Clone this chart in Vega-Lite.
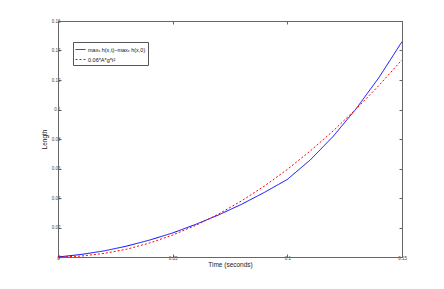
{
  "$schema": "https://vega.github.io/schema/vega-lite/v6.json",
  "autosize": {"type": "none"},
  "width": 344,
  "height": 236,
  "padding": {"left": 58, "top": 21, "right": 42, "bottom": 32},
  "background": "white",
  "config": {
    "view": {"stroke": null},
    "font": "Liberation Sans"
  },
  "data": {
    "values": [
      {"t": 0.00, "v": 0.0000, "s": "blue"},
      {"t": 0.01, "v": 0.0017, "s": "blue"},
      {"t": 0.02, "v": 0.0041, "s": "blue"},
      {"t": 0.03, "v": 0.0074, "s": "blue"},
      {"t": 0.04, "v": 0.0115, "s": "blue"},
      {"t": 0.05, "v": 0.0163, "s": "blue"},
      {"t": 0.06, "v": 0.0221, "s": "blue"},
      {"t": 0.07, "v": 0.0285, "s": "blue"},
      {"t": 0.08, "v": 0.0357, "s": "blue"},
      {"t": 0.09, "v": 0.0438, "s": "blue"},
      {"t": 0.10, "v": 0.0526, "s": "blue"},
      {"t": 0.11, "v": 0.0658, "s": "blue"},
      {"t": 0.12, "v": 0.0818, "s": "blue"},
      {"t": 0.13, "v": 0.1005, "s": "blue"},
      {"t": 0.14, "v": 0.1218, "s": "blue"},
      {"t": 0.15, "v": 0.1460, "s": "blue"},
      {"t": 0.00, "v": 0.0000, "s": "red"},
      {"t": 0.01, "v": 0.0006, "s": "red"},
      {"t": 0.02, "v": 0.0024, "s": "red"},
      {"t": 0.03, "v": 0.0053, "s": "red"},
      {"t": 0.04, "v": 0.0095, "s": "red"},
      {"t": 0.05, "v": 0.0149, "s": "red"},
      {"t": 0.06, "v": 0.0214, "s": "red"},
      {"t": 0.07, "v": 0.0291, "s": "red"},
      {"t": 0.08, "v": 0.0380, "s": "red"},
      {"t": 0.09, "v": 0.0481, "s": "red"},
      {"t": 0.10, "v": 0.0594, "s": "red"},
      {"t": 0.11, "v": 0.0719, "s": "red"},
      {"t": 0.12, "v": 0.0855, "s": "red"},
      {"t": 0.13, "v": 0.1004, "s": "red"},
      {"t": 0.14, "v": 0.1164, "s": "red"},
      {"t": 0.15, "v": 0.1337, "s": "red"}
    ]
  },
  "layer": [
    {
      "mark": {"type": "line", "strokeWidth": 1, "clip": true},
      "encoding": {
        "x": {
          "field": "t", "type": "quantitative",
          "scale": {"domain": [0, 0.15], "nice": false, "zero": false},
          "axis": {
            "orient": "bottom", "values": [0, 0.05, 0.1, 0.15],
            "labelExpr": "datum.value == 0 ? '0' : format(datum.value, '~g')",
            "title": "Time (seconds)", "titleFontSize": 6.5, "titleFontWeight": "normal",
            "titleColor": "#222", "titlePadding": 2,
            "labelFontSize": 4.5, "labelColor": "#444", "labelPadding": 1,
            "tickSize": -3, "tickColor": "#666", "domainColor": "#666",
            "grid": false, "labelFlush": false
          }
        },
        "y": {
          "field": "v", "type": "quantitative",
          "scale": {"domain": [0, 0.16], "nice": false},
          "axis": {
            "orient": "left", "values": [0, 0.02, 0.04, 0.06, 0.08, 0.1, 0.12, 0.14, 0.16],
            "labelExpr": "datum.value == 0 ? '0' : format(datum.value, '~g')",
            "title": "Length", "titleFontSize": 6.5, "titleFontWeight": "normal",
            "titleColor": "#222", "titlePadding": 4,
            "labelFontSize": 4.5, "labelColor": "#444", "labelPadding": 1,
            "tickSize": -3, "tickColor": "#666", "domainColor": "#666",
            "grid": false
          }
        },
        "color": {
          "field": "s", "type": "nominal",
          "scale": {"domain": ["blue", "red"], "range": ["#0000ff", "#ff0000"]},
          "legend": {
            "orient": "none", "legendX": 15, "legendY": 21,
            "title": null,
            "labelExpr": "datum.value == 'blue' ? 'maxₓ h(x,t)−maxₓ h(x,0)' : '0.06*A*g*t²'",
            "labelFontSize": 5.5, "labelColor": "#111",
            "symbolType": "stroke", "symbolSize": 100, "symbolStrokeWidth": 1,
            "strokeColor": "#555", "fillColor": "white", "padding": 2,
            "rowPadding": 1, "labelOffset": 2
          }
        },
        "strokeDash": {
          "field": "s", "type": "nominal",
          "scale": {"domain": ["blue", "red"], "range": [[1, 0], [2, 2]]},
          "legend": {
            "orient": "none", "legendX": 15, "legendY": 21,
            "title": null,
            "labelExpr": "datum.value == 'blue' ? 'maxₓ h(x,t)−maxₓ h(x,0)' : '0.06*A*g*t²'",
            "labelFontSize": 5.5, "labelColor": "#111",
            "symbolType": "stroke", "symbolSize": 100, "symbolStrokeWidth": 1,
            "strokeColor": "#555", "fillColor": "white", "padding": 2,
            "rowPadding": 1, "labelOffset": 2
          }
        }
      }
    },
    {
      "mark": {"type": "line", "opacity": 0},
      "encoding": {
        "x": {
          "field": "t", "type": "quantitative",
          "axis": {
            "orient": "top", "values": [0, 0.05, 0.1, 0.15], "labels": false,
            "title": null, "tickSize": -3, "tickColor": "#666", "domainColor": "#666", "grid": false
          }
        },
        "y": {
          "field": "v", "type": "quantitative",
          "axis": {
            "orient": "right", "values": [0, 0.02, 0.04, 0.06, 0.08, 0.1, 0.12, 0.14, 0.16], "labels": false,
            "title": null, "tickSize": -3, "tickColor": "#666", "domainColor": "#666", "grid": false
          }
        }
      }
    }
  ],
  "resolve": {"axis": {"x": "independent", "y": "independent"}}
}
